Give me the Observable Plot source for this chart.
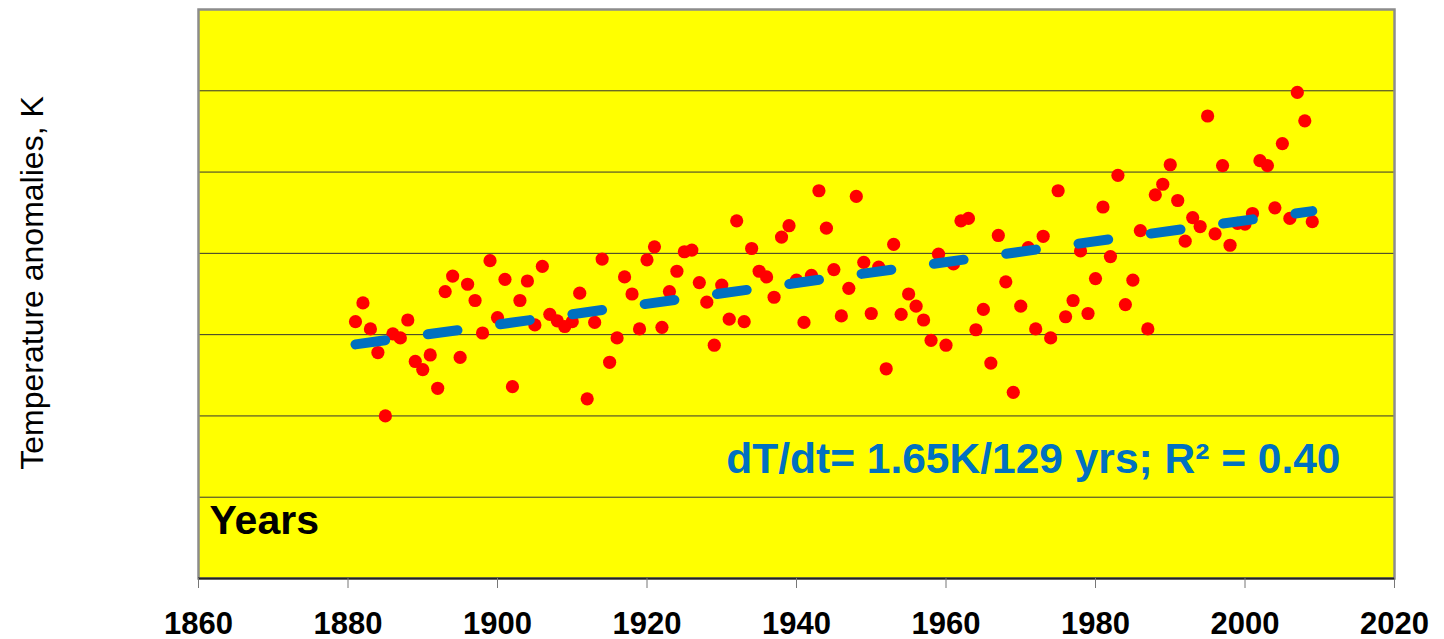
<!DOCTYPE html>
<html>
<head>
<meta charset="utf-8">
<script src="https://cdn.jsdelivr.net/npm/d3@7"></script>
<script src="https://cdn.jsdelivr.net/npm/@observablehq/plot@0.6"></script>
<style>
  html, body { margin: 0; padding: 0; background: #fff; }
  #chart { width: 1444px; height: 639px; }
</style>
</head>
<body>
<div id="chart"></div>
<script>
const years = d3.range(1881, 2010);
const anomalies = [
  -0.84, -0.61, -0.93, -1.22, -2.00, -0.99, -1.04, -0.82, -1.33, -1.43,
  -1.25, -1.66, -0.47, -0.28, -1.28, -0.38, -0.58, -0.98, -0.09, -0.79,
  -0.32, -1.64, -0.58, -0.34, -0.88, -0.16, -0.75, -0.83, -0.90, -0.84,
  -0.49, -1.79, -0.85, -0.07, -1.34, -1.04, -0.29, -0.50, -0.93, -0.08,
   0.08, -0.91, -0.47, -0.22,  0.02,  0.04, -0.36, -0.60, -1.13, -0.39,
  -0.81,  0.40, -0.84,  0.06, -0.22, -0.29, -0.54,  0.20,  0.34, -0.33,
  -0.85, -0.27,  0.77,  0.31, -0.20, -0.77, -0.43,  0.70, -0.11, -0.74,
  -0.17, -1.42,  0.11, -0.75, -0.50, -0.65, -0.82, -1.07, -0.01, -1.13,
  -0.13,  0.40,  0.43, -0.94, -0.69, -1.35,  0.22, -0.35, -1.71, -0.65,
   0.07, -0.93,  0.21, -1.04,  0.77, -0.78, -0.58,  0.03, -0.74, -0.31,
   0.57, -0.04,  0.96, -0.63, -0.33,  0.28, -0.93,  0.72,  0.85,  1.09,
   0.65,  0.15,  0.44,  0.33,  1.69,  0.24,  1.08,  0.10,  0.37,  0.36,
   0.49,  1.14,  1.08,  0.56,  1.35,  0.43,  1.98,  1.63,  0.39
];
const trendYears = [1881, 2009];
const trendValues = [-1.12, 0.52];
const xTicks = [1860, 1880, 1900, 1920, 1940, 1960, 1980, 2000, 2020];
const yGrid = [-3, -2, -1, 0, 1, 2];
const yLabel = "Temperature anomalies, K";
const xLabel = "Years";
const trendText = "dT/dt= 1.65K/129 yrs; R² = 0.40";

const points = years.map((y, i) => ({year: y, value: anomalies[i]}));
const trend = trendYears.map((y, i) => ({year: y, value: trendValues[i]}));

const chart = Plot.plot({
  width: 1444,
  height: 639,
  marginLeft: 198,
  marginRight: 50,
  marginTop: 9,
  marginBottom: 61,
  style: {fontFamily: "'Liberation Sans', Arial, sans-serif", background: "#fff", overflow: "visible"},
  x: {domain: [1860, 2020], axis: null},
  y: {domain: [-4, 3], axis: null},
  marks: [
    Plot.frame({fill: "#FFFF00"}),
    Plot.ruleY(yGrid, {stroke: "#333", strokeWidth: 1}),
    Plot.frame({stroke: "#8c8c8c", strokeWidth: 2.5}),
    Plot.ruleY([-4], {stroke: "#222", strokeWidth: 2}),
    Plot.axisX({
      ticks: xTicks, tickSize: 10, tickPadding: 23, stroke: "#777", fill: "#000",
      fontSize: 31, fontWeight: "bold", tickFormat: d => String(d), label: null
    }),
    Plot.dot(points, {x: "year", y: "value", r: 6.6, fill: "#FF0000", stroke: "none"}),
    Plot.line(trend, {
      x: "year", y: "value", stroke: "#0070C0", strokeWidth: 10,
      strokeDasharray: "30,43", strokeLinecap: "round"
    }),
    Plot.text([xLabel], {
      frameAnchor: "bottom-left", dx: 11, dy: -45, lineAnchor: "bottom", textAnchor: "start",
      fontSize: 41, fontWeight: "bold", fill: "#000"
    }),
    Plot.text([trendText], {
      frameAnchor: "bottom-right", dx: -54, dy: -106, lineAnchor: "bottom", textAnchor: "end",
      fontSize: 42.5, fontWeight: "bold", fill: "#0070C0"
    }),
    Plot.text([yLabel], {
      frameAnchor: "left", dx: -166, dy: -11, rotate: -90, textAnchor: "middle", lineAnchor: "middle",
      fontSize: 32, fill: "#000"
    })
  ]
});
document.getElementById("chart").appendChild(chart);
</script>
</body>
</html>
